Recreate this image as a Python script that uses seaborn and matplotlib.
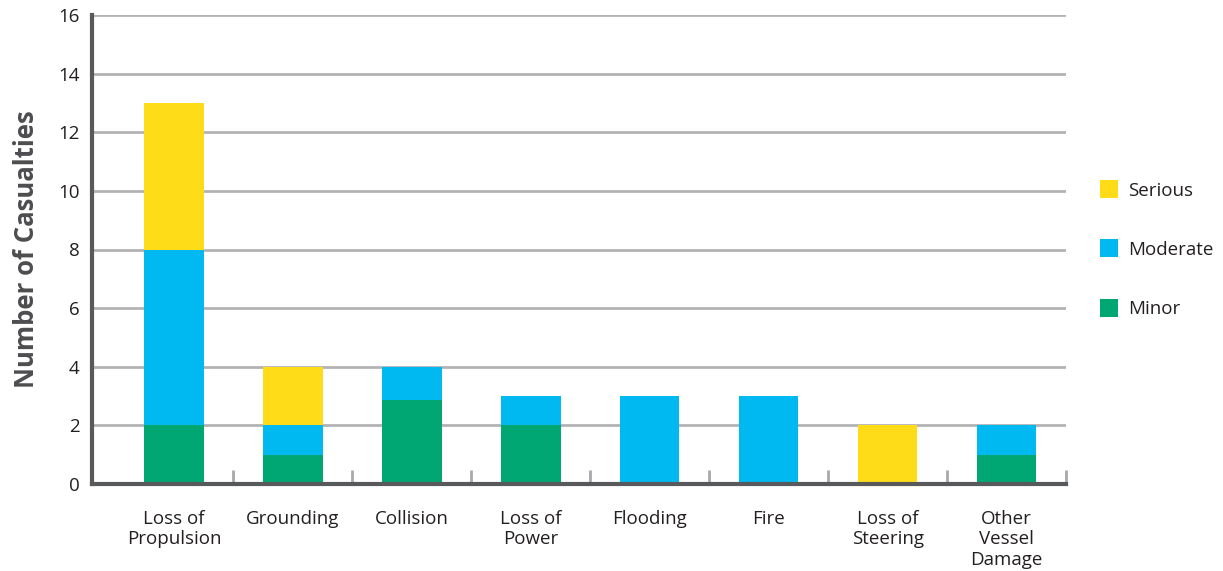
import matplotlib
matplotlib.use("Agg")
import matplotlib.pyplot as plt
import seaborn as sns
import numpy as np
from matplotlib.lines import Line2D

categories = ["Loss of\nPropulsion", "Grounding", "Collision", "Loss of\nPower",
              "Flooding", "Fire", "Loss of\nSteering", "Other\nVessel\nDamage"]
minor = [2, 1, 2.85, 2, 0, 0, 0, 1]
moderate = [6, 1, 1.15, 1, 3, 3, 0, 1]
serious = [5, 2, 0, 0, 0, 0, 2, 0]
yticks = [0, 2, 4, 6, 8, 10, 12, 14, 16]

c_minor = "#00A773"
c_mod = "#00B9F1"
c_ser = "#FFDC17"

sns.set_theme(style="white")
plt.rcParams['font.family'] = ['Open Sans', 'DejaVu Sans']

fig = plt.figure(figsize=(12.23, 5.71), dpi=100)
ax = fig.add_axes([92/1223, 1-484/571, (1066-92)/1223, (484-15)/571])

bottom_mod = np.array(minor)
bottom_ser = np.array(minor) + np.array(moderate)
sns.barplot(x=categories, y=minor, color=c_minor, width=0.5, ax=ax, saturation=1, linewidth=0)
sns.barplot(x=categories, y=moderate, bottom=bottom_mod, color=c_mod, width=0.5, ax=ax, saturation=1, linewidth=0)
sns.barplot(x=categories, y=serious, bottom=bottom_ser, color=c_ser, width=0.5, ax=ax, saturation=1, linewidth=0)

ax.set_ylim(0, 16)
ax.set_xlim(-0.5 - 22.5/119, 7.5)
ax.set_yticks(yticks)
ax.set_yticklabels([str(v) for v in yticks], fontsize=13.5, color="#231f20")
for lab in ax.get_yticklabels():
    lab.set_verticalalignment('center_baseline')
ax.yaxis.grid(True, color="#b3b3b5", linewidth=2)
ax.set_axisbelow(True)
ax.tick_params(axis='y', length=0, pad=9)
ax.tick_params(axis='x', length=0, pad=19, labelsize=13.5, labelcolor="#231f20")
for lab in ax.get_xticklabels():
    lab.set_linespacing(1.15)
    lab.set_verticalalignment('top')
ax.set_xticks(np.arange(0.5, 8, 1), minor=True)
ax.tick_params(axis='x', which='minor', direction='in', length=10, width=2, color="#a7a9ac", bottom=True)

for s in ['top', 'right']:
    ax.spines[s].set_visible(False)
for s in ['left', 'bottom']:
    ax.spines[s].set_color("#58595b")
    ax.spines[s].set_linewidth(3)

ax.set_ylabel("Number of Casualties", fontsize=18.5, fontweight='bold', color="#4d4d4f", labelpad=13)
ax.set_xlabel("")

handles = [Line2D([], [], marker='s', linestyle='none', markersize=12.5, color=c, markeredgewidth=0)
           for c in [c_ser, c_mod, c_minor]]
fig.legend(handles, ["Serious", "Moderate", "Minor"], loc='center left',
           bbox_to_anchor=(1083/1223, 1-250/571), frameon=False, fontsize=13.5,
           labelspacing=2.2, handlelength=1.0, handletextpad=0.5, labelcolor="#231f20")

fig.savefig("out.png", dpi=100)
